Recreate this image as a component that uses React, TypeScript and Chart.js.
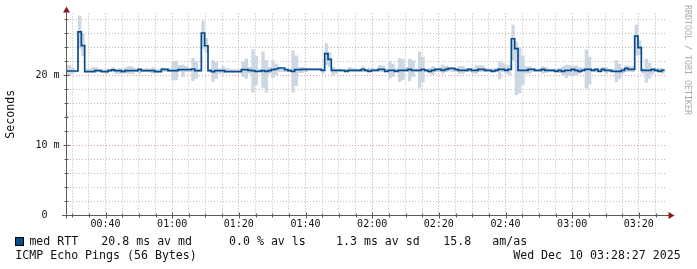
import React, { useEffect, useRef } from 'react';
import { Chart, registerables } from 'chart.js';

Chart.register(...registerables);

// time axis in minutes after midnight (00:28:27 .. 03:28:27)
const X_MIN = 28.45;
const X_MAX = 208.45;
const FIRST_SAMPLE_MIN = 28.75; // start of first 1-minute sample
const SAMPLE_STEP_MIN = 1;

// median RTT (ms), one value per minute
const MEDIAN = [
  20.57, 20.57, 20.57, 26.15, 24.2, 20.48, 20.48, 20.48, 20.62, 20.62,
  20.48, 20.48, 20.62, 20.72, 20.62, 20.62, 20.48, 20.62, 20.62, 20.62,
  20.62, 20.81, 20.62, 20.62, 20.62, 20.62, 20.48, 20.48, 20.81, 20.81,
  20.62, 20.62, 20.62, 20.76, 20.76, 20.76, 20.76, 20.86, 20.62, 20.62,
  26.0, 24.18, 20.62, 20.48, 20.62, 20.62, 20.62, 20.48, 20.48, 20.48,
  20.48, 20.48, 20.76, 20.76, 20.67, 20.62, 20.53, 20.53, 20.62, 20.53,
  20.62, 20.76, 20.86, 21.0, 21.0, 20.76, 20.62, 20.53, 20.76, 20.76,
  20.81, 20.81, 20.81, 20.81, 20.81, 20.81, 20.67, 23.04, 22.24, 20.67,
  20.67, 20.67, 20.67, 20.53, 20.67, 20.67, 20.67, 20.67, 20.81, 20.67,
  20.53, 20.67, 20.67, 20.81, 20.81, 20.53, 20.67, 20.67, 20.53, 20.67,
  20.67, 20.67, 20.81, 20.67, 20.67, 20.67, 20.81, 20.67, 20.53, 20.67,
  20.81, 20.81, 20.67, 20.81, 20.96, 20.96, 20.81, 20.67, 20.67, 20.67,
  20.81, 20.67, 20.67, 20.81, 20.81, 20.67, 20.67, 20.53, 20.67, 20.81,
  20.81, 20.67, 20.81, 25.18, 23.76, 20.67, 20.67, 20.67, 20.81, 20.81,
  20.67, 20.67, 20.81, 20.67, 20.67, 20.67, 20.53, 20.67, 20.53, 20.67,
  20.67, 20.81, 20.67, 20.53, 20.67, 20.81, 20.81, 20.67, 20.81, 20.53,
  20.81, 20.67, 20.67, 20.53, 20.53, 20.53, 20.67, 20.96, 20.81, 20.81,
  25.55, 23.9, 20.67, 20.67, 20.67, 20.81, 20.67, 20.53, 20.67,
];

// smoke: lowest ping per minute (ms)
const SMOKE_LO = [
  19.9, 20.2, 20.4, 23.76, 22.7, 20.4, 20.43, 20.43, 20.34, 20.43,
  20.43, 20.19, 20.43, 20.43, 20.19, 20.19, 20.43, 20.19, 20.19, 20.19,
  20.43, 20.19, 20.43, 20.43, 20.34, 20.19, 20.34, 20.43, 20.43, 20.43,
  20.43, 19.25, 19.25, 20.43, 19.72, 20.43, 20.43, 19.15, 19.48, 20.43,
  23.76, 23.18, 20.43, 19.01, 19.48, 20.19, 20.19, 20.43, 20.43, 20.43,
  20.43, 20.43, 19.72, 19.48, 20.19, 17.49, 18.53, 20.43, 18.15, 17.49,
  20.19, 19.58, 19.96, 20.43, 20.43, 20.43, 20.43, 17.49, 18.44, 20.29,
  20.29, 20.43, 20.67, 20.67, 20.67, 20.62, 20.19, 21.38, 21.14, 19.96,
  20.19, 20.43, 20.43, 20.43, 20.43, 20.43, 20.43, 20.43, 20.43, 20.43,
  20.43, 20.43, 20.53, 20.43, 20.43, 20.43, 19.48, 19.72, 20.43, 19.01,
  19.25, 20.43, 19.1, 19.72, 20.43, 18.06, 19.01, 20.43, 20.19, 19.96,
  20.43, 20.43, 20.19, 20.43, 20.53, 20.43, 20.43, 20.19, 20.19, 20.43,
  20.43, 20.19, 20.19, 20.43, 20.43, 20.43, 20.43, 20.43, 20.43, 19.39,
  20.43, 20.19, 19.96, 22.09, 17.11, 17.35, 18.6, 20.19, 20.19, 20.43,
  20.43, 20.43, 20.19, 20.29, 20.43, 20.43, 20.43, 20.29, 19.96, 19.58,
  19.86, 19.86, 19.96, 20.19, 20.43, 18.06, 18.63, 20.43, 20.43, 20.43,
  20.43, 20.19, 20.43, 20.43, 19.01, 19.39, 20.19, 20.43, 20.43, 20.43,
  22.8, 22.9, 20.19, 18.91, 19.48, 20.19, 20.43, 20.43, 20.19,
];

// smoke: highest ping per minute (ms)
const SMOKE_HI = [
  21.4, 21.0, 20.7, 28.5, 25.9, 20.9, 20.91, 21.1, 21.1, 20.91,
  20.78, 20.91, 20.91, 21.1, 20.81, 21.0, 20.91, 21.14, 21.29, 21.14,
  20.91, 20.91, 20.91, 21.0, 20.91, 21.1, 20.91, 20.81, 21.1, 20.91,
  20.91, 21.95, 21.95, 21.38, 21.48, 21.29, 20.91, 22.42, 21.95, 20.91,
  27.78, 25.27, 20.91, 22.09, 21.85, 20.91, 21.29, 21.0, 20.91, 20.81,
  20.81, 20.81, 21.85, 22.33, 21.14, 23.66, 22.71, 20.91, 23.37, 22.09,
  21.14, 22.09, 21.62, 21.14, 21.0, 20.91, 20.91, 23.51, 22.8, 21.14,
  21.14, 21.0, 21.0, 20.91, 20.91, 20.91, 20.91, 24.55, 23.28, 21.14,
  20.91, 20.91, 20.72, 20.81, 21.14, 21.0, 20.91, 20.91, 21.24, 20.91,
  21.0, 21.0, 20.91, 21.38, 21.38, 20.91, 21.95, 21.62, 20.91, 22.42,
  22.24, 21.14, 22.33, 22.09, 20.91, 23.37, 22.56, 20.91, 21.0, 21.29,
  21.0, 21.14, 21.48, 21.29, 21.1, 21.0, 20.91, 21.29, 21.29, 21.0,
  21.0, 20.91, 21.38, 21.38, 21.38, 21.0, 20.91, 20.91, 21.0, 21.95,
  21.76, 21.38, 21.38, 27.21, 24.7, 23.99, 22.8, 21.24, 21.24, 21.0,
  20.91, 20.91, 21.24, 21.1, 20.91, 20.91, 20.91, 21.0, 21.24, 21.48,
  21.38, 21.29, 21.38, 21.14, 21.0, 23.61, 22.56, 20.91, 21.0, 20.91,
  21.14, 21.14, 20.91, 20.91, 22.09, 21.62, 21.0, 21.38, 21.29, 21.29,
  27.21, 24.94, 21.0, 22.33, 21.76, 21.0, 21.0, 21.0, 21.0,
];

// x grid (minutes) and labelled ticks
const X_GRID = [30, 35, 40, 45, 50, 55, 60, 65, 70, 75, 80, 85, 90, 95, 100, 105, 110, 115, 120, 125, 130, 135, 140, 145, 150, 155, 160, 165, 170, 175, 180, 185, 190, 195, 200, 205];
const X_LABEL_VALUES = [40, 60, 80, 100, 120, 140, 160, 180, 200];
const X_LABELS = ['00:40', '01:00', '01:20', '01:40', '02:00', '02:20', '02:40', '03:00', '03:20'];

// y grid (ms) and labelled ticks
const Y_MAX = 28.8;
const Y_GRID = [0, 2, 4, 6, 8, 10, 12, 14, 16, 18, 20, 22, 24, 26, 28];
const Y_LABEL_VALUES = [0, 10, 20];
const Y_LABELS = ['0  ', '10 m', '20 m'];

const LEGEND_TEXTS = ['med RTT', '20.8 ms av md', '0.0 % av ls', '1.3 ms av sd', '15.8', 'am/as'];
const TITLE_TEXT = 'ICMP Echo Pings (56 Bytes)';
const DATE_TEXT = 'Wed Dec 10 03:28:27 2025';
const WATERMARK = 'RRDTOOL / TOBI OETIKER';

const MONO = '"DejaVu Sans Mono", monospace';
const MED_COLOR = '#0a4b8c';
const SMOKE_COLOR = '#cbd7e3';
const MINOR_GRID = '#bcbcbc';
const MAJOR_GRID = '#e29a9a';

function toPoints(arr: number[]) {
  const pts = arr.map((v, i) => ({ x: i === 0 ? X_MIN : FIRST_SAMPLE_MIN + i * SAMPLE_STEP_MIN, y: v }));
  pts.push({ x: FIRST_SAMPLE_MIN + arr.length * SAMPLE_STEP_MIN, y: arr[arr.length - 1] });
  return pts;
}

const axesPlugin = {
  id: 'rrdAxes',
  afterDatasetsDraw(chart: any) {
    const { ctx, chartArea: a, scales } = chart;
    const xs = scales.x;
    const ys = scales.y;
    const y0 = Math.round(ys.getPixelForValue(0)) + 0.5;
    const x0 = Math.round(a.left) - 0.5;
    ctx.save();
    ctx.strokeStyle = '#5a5a5a';
    ctx.lineWidth = 1;
    ctx.setLineDash([]);
    ctx.beginPath();
    ctx.moveTo(a.left - 5, y0);
    ctx.lineTo(a.right + 4, y0);
    ctx.moveTo(x0, y0 + 3);
    ctx.lineTo(x0, a.top - 3);
    // tick marks
    X_GRID.forEach((v) => {
      const px = Math.round(xs.getPixelForValue(v)) + 0.5;
      const len = X_LABEL_VALUES.includes(v) ? 3 : 2;
      ctx.moveTo(px, y0 - len);
      ctx.lineTo(px, y0 + len);
    });
    Y_GRID.forEach((v) => {
      if (v === 0) return;
      const py = Math.round(ys.getPixelForValue(v)) + 0.5;
      const len = Y_LABEL_VALUES.includes(v) ? 3 : 2;
      ctx.moveTo(x0 - len, py);
      ctx.lineTo(x0 + len, py);
    });
    ctx.stroke();
    // arrows
    ctx.fillStyle = '#8e1b1b';
    ctx.beginPath();
    ctx.moveTo(a.right + 1.5, y0 - 3.5);
    ctx.lineTo(a.right + 7.5, y0);
    ctx.lineTo(a.right + 1.5, y0 + 3.5);
    ctx.closePath();
    ctx.fill();
    ctx.beginPath();
    ctx.moveTo(x0 - 3.5, a.top - 1);
    ctx.lineTo(x0, a.top - 7);
    ctx.lineTo(x0 + 3.5, a.top - 1);
    ctx.closePath();
    ctx.fill();
    ctx.restore();
  },
};

export default function App() {
  const ref = useRef<HTMLCanvasElement>(null);

  useEffect(() => {
    if (!ref.current) return;
    const chart = new Chart(ref.current, {
      type: 'line',
      data: {
        datasets: [
          {
            label: 'med RTT',
            data: toPoints(MEDIAN),
            stepped: true,
            borderColor: MED_COLOR,
            borderWidth: 1.7,
            pointRadius: 0,
            fill: false,
            borderJoinStyle: 'miter',
            borderCapStyle: 'butt',
          },
          {
            label: 'smoke lo',
            data: toPoints(SMOKE_LO),
            stepped: true,
            borderWidth: 0,
            borderColor: 'rgba(0,0,0,0)',
            pointRadius: 0,
            fill: false,
          },
          {
            label: 'smoke hi',
            data: toPoints(SMOKE_HI),
            stepped: true,
            borderWidth: 0,
            borderColor: 'rgba(0,0,0,0)',
            backgroundColor: SMOKE_COLOR,
            pointRadius: 0,
            fill: '-1',
          },
        ],
      },
      options: {
        responsive: false,
        animation: false,
        devicePixelRatio: 1,
        parsing: false,
        normalized: true,
        layout: { padding: { top: 13, right: 30, bottom: 0, left: 0 } },
        plugins: {
          legend: { display: false },
          tooltip: { enabled: false },
          filler: { propagate: false },
        },
        scales: {
          x: {
            type: 'linear',
            min: X_MIN,
            max: X_MAX,
            afterBuildTicks: (s: any) => {
              s.ticks = X_GRID.map((v) => ({ value: v }));
            },
            afterFit: (s: any) => {
              s.height = 54;
            },
            grid: {
              color: (c: any) => (c.tick && X_LABEL_VALUES.includes(c.tick.value) ? MAJOR_GRID : MINOR_GRID),
              lineWidth: 1,
              drawTicks: false,
            },
            border: { display: false, dash: [1, 2] },
            ticks: {
              autoSkip: false,
              maxRotation: 0,
              minRotation: 0,
              padding: 3.5,
              color: '#111',
              font: { family: MONO, size: 10 },
              callback: (v: any) => {
                const i = X_LABEL_VALUES.indexOf(Number(v));
                return i >= 0 ? X_LABELS[i] : '';
              },
            },
          },
          y: {
            type: 'linear',
            min: 0,
            max: Y_MAX,
            afterBuildTicks: (s: any) => {
              s.ticks = Y_GRID.map((v) => ({ value: v }));
            },
            afterFit: (s: any) => {
              s.width = 67;
            },
            grid: {
              color: (c: any) => (c.tick && c.tick.value !== 0 && Y_LABEL_VALUES.includes(c.tick.value) ? MAJOR_GRID : MINOR_GRID),
              lineWidth: 1,
              drawTicks: false,
            },
            border: { display: false, dash: [1, 2] },
            title: {
              display: true,
              text: 'Seconds',
              color: '#111',
              font: { family: MONO, size: 11.6 },
              padding: { top: 4, bottom: 0 },
            },
            ticks: {
              autoSkip: false,
              padding: 7.4,
              color: '#111',
              font: { family: MONO, size: 10 },
              callback: (v: any) => {
                const i = Y_LABEL_VALUES.indexOf(Number(v));
                return i >= 0 ? Y_LABELS[i] : '';
              },
            },
          },
        },
      },
      plugins: [axesPlugin],
    } as any);
    return () => chart.destroy();
  }, []);

  const legendX = [29.4, 101.3, 229, 336, 443.3, 492.3];
  const textStyle: React.CSSProperties = {
    position: 'absolute',
    fontFamily: MONO,
    fontSize: 11.6,
    lineHeight: '14px',
    whiteSpace: 'pre',
    color: '#111',
  };

  return (
    <div style={{ position: 'absolute', left: 0, top: 0, width: 697, height: 269, background: '#fff', overflow: 'hidden' }}>
      <canvas ref={ref} width={697} height={269} style={{ position: 'absolute', left: 0, top: 0, width: 697, height: 269 }} />
      <div
        style={{
          position: 'absolute',
          left: 15,
          top: 237,
          width: 9,
          height: 9,
          boxSizing: 'border-box',
          border: '1px solid #000',
          background: MED_COLOR,
        }}
      />
      {LEGEND_TEXTS.map((t, i) => (
        <span key={i} style={{ ...textStyle, left: legendX[i], top: 234 }}>
          {t}
        </span>
      ))}
      <span style={{ ...textStyle, left: 15.3, top: 248 }}>{TITLE_TEXT}</span>
      <span style={{ ...textStyle, left: 513.2, top: 248 }}>{DATE_TEXT}</span>
      <div
        style={{
          position: 'absolute',
          left: 682.5,
          top: 4.5,
          width: 10,
          writingMode: 'vertical-rl',
          fontFamily: MONO,
          fontSize: 8.3,
          lineHeight: '10px',
          whiteSpace: 'pre',
          color: '#ababab',
        }}
      >
        {WATERMARK}
      </div>
    </div>
  );
}
